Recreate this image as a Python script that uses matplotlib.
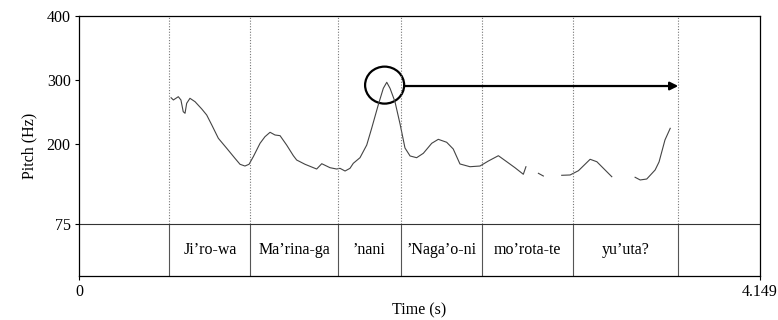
#!/usr/bin/env python3
import matplotlib
matplotlib.use("Agg")
import matplotlib.pyplot as plt
from matplotlib.patches import Ellipse

plt.rcParams["font.family"] = ["Liberation Serif", "DejaVu Serif"]

T_END = 4.149
PITCH_MIN = 75
PITCH_MAX = 400
TIER_BOTTOM = -6.25

# pitch track (s, Hz), voiced stretches
seg1_t = [0.561, 0.575, 0.605, 0.621, 0.635, 0.646, 0.656, 0.676, 0.707, 0.748,
          0.778, 0.809, 0.849, 0.900, 0.950, 0.981, 1.011, 1.036, 1.062, 1.103,
          1.133, 1.164, 1.194, 1.225, 1.265, 1.306, 1.326, 1.377, 1.448, 1.479,
          1.529, 1.570, 1.590, 1.621, 1.651, 1.671, 1.712, 1.753, 1.783, 1.823,
          1.854, 1.875, 1.895, 1.925, 1.956, 1.986, 2.017, 2.057, 2.098, 2.149,
          2.189, 2.240, 2.280, 2.321, 2.382, 2.443, 2.494, 2.555, 2.606, 2.656,
          2.707, 2.723]
seg1_f = [272.3, 268.8, 273.9, 268.8, 250.5, 248.0, 263.6, 271.4, 266.1, 254.7,
          245.3, 229.7, 208.9, 193.3, 177.7, 168.3, 165.6, 168.3, 180.2, 201.1,
          211.4, 218.3, 214.1, 213.0, 198.4, 181.7, 175.0, 168.3, 160.9, 169.2,
          163.0, 160.9, 162.0, 157.8, 162.0, 169.8, 178.6, 198.4, 224.5, 260.9,
          287.0, 296.4, 287.0, 266.1, 231.3, 193.8, 181.3, 178.6, 185.5, 201.1,
          207.3, 202.7, 192.2, 168.8, 164.5, 165.6, 173.4, 181.7, 172.3, 163.0,
          152.7, 164.5]
seg2_t = [2.799, 2.829]
seg2_f = [154.2, 150.0]
seg3_t = [2.941, 2.992, 3.043, 3.114, 3.155, 3.246]
seg3_f = [151.1, 151.6, 158.3, 176.1, 172.3, 148.9]
seg4_t = [3.388, 3.419, 3.459, 3.510, 3.534, 3.570, 3.602]
seg4_f = [148.0, 143.8, 145.3, 159.4, 172.0, 206.3, 224.5]

# word tier
boundaries = [0.550, 1.044, 1.576, 1.963, 2.453, 3.010, 3.651]
words = ["Ji\u2019ro-wa", "Ma\u2019rina-ga", "\u2019nani", "\u2019Naga\u2019o-ni",
         "mo\u2019rota-te", "yu\u2019uta?"]

# peak marker and arrow
peak_t, peak_f = 1.862, 292.0
arrow_f = 290.6


def main():
    fig = plt.figure(figsize=(7.78, 3.2), dpi=100)
    ax = fig.add_axes([79 / 778, 1 - 276 / 320, 681 / 778, 260 / 320])

    for t, f in [(seg1_t, seg1_f), (seg2_t, seg2_f), (seg3_t, seg3_f), (seg4_t, seg4_f)]:
        ax.plot(t, f, color="#444444", lw=0.8)

    for b in boundaries:
        ax.plot([b, b], [PITCH_MIN, PITCH_MAX], color="#777777", lw=0.8,
                linestyle=(0, (1, 1.5)))
        ax.plot([b, b], [TIER_BOTTOM, PITCH_MIN], color="#555555", lw=0.8)

    ax.axhline(PITCH_MIN, color="#333333", lw=0.8)

    mid = (TIER_BOTTOM + PITCH_MIN) / 2
    for i, w in enumerate(words):
        x = (boundaries[i] + boundaries[i + 1]) / 2
        ax.text(x, mid, w, ha="center", va="center", fontsize=11.5)

    ax.add_patch(Ellipse((peak_t, peak_f), 0.238, 57.8, fill=False,
                         edgecolor="black", lw=1.6))
    ax.annotate("", xy=(boundaries[-1], arrow_f), xytext=(peak_t + 0.119, arrow_f),
                arrowprops=dict(arrowstyle="-|>", color="black", lw=1.6,
                                mutation_scale=12, shrinkA=0, shrinkB=0))

    ax.set_xlim(0, T_END)
    ax.set_ylim(TIER_BOTTOM, PITCH_MAX)
    ax.set_xticks([0, T_END])
    ax.set_xticklabels(["0", "4.149"])
    ax.set_yticks([75, 200, 300, 400])
    ax.tick_params(length=3, width=0.8, labelsize=11.5, pad=3)
    for s in ax.spines.values():
        s.set_linewidth(0.9)
    ax.set_xlabel("Time (s)", fontsize=11.5)
    ax.xaxis.set_label_coords(0.5, -0.102)
    ax.set_ylabel("Pitch (Hz)", fontsize=11.5, labelpad=7)

    fig.savefig("out.png", dpi=100)
    plt.close(fig)


if __name__ == "__main__":
    main()
